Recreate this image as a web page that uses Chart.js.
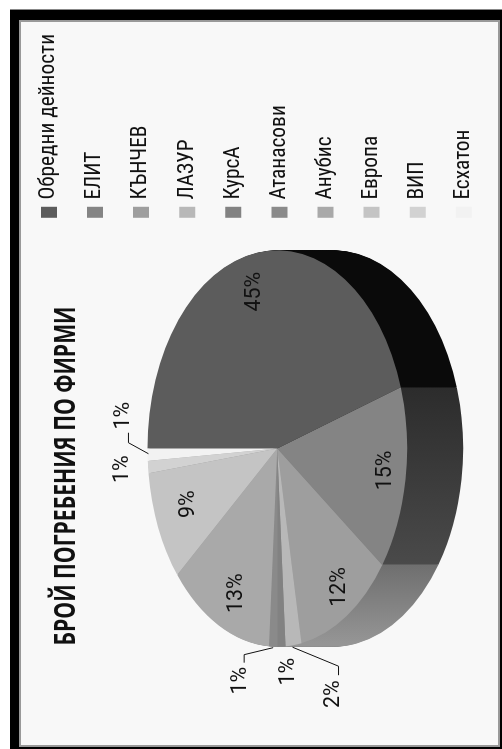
<!DOCTYPE html>
<html>
<head>
<meta charset="utf-8">
<title>Брой погребения по фирми</title>
<script src="https://cdn.jsdelivr.net/npm/chart.js@4"></script>
<style>
    html, body { margin: 0; padding: 0; background: #fff; width: 502px; height: 749px; overflow: hidden; }
    #frame { position: absolute; left: 10px; top: 9px; width: 492px; height: 740px; background: #000; border-top: 1px solid #888; box-sizing: border-box; }
    #panel { position: absolute; left: 9px; top: 10px; width: 481px; height: 727px; background: #f8f8f8; border: 2px solid #999; box-sizing: border-box; }
    #chart { position: absolute; left: 0; top: 0; transform-origin: 0 0; transform: translateY(749px) rotate(-90deg); filter: blur(0.4px); }
</style>
</head>
<body>
<div id="frame"><div id="panel"></div></div>
<canvas id="chart" width="749" height="502"></canvas>
<script>
// ------------------------------
// DATA
// ------------------------------
const firms = ["Обредни дейности", "ЕЛИТ", "КЪНЧЕВ", "ЛАЗУР", "КурсА", "Атанасови", "Анубис", "Европа", "ВИП", "Есхатон"];
const shares = [45, 15, 12, 2, 1, 1, 13, 9, 1, 1];
const chartTitle = "БРОЙ ПОГРЕБЕНИЯ ПО ФИРМИ";

// ------------------------------
// LOOK
// ------------------------------
const sliceColors = ["#5c5c5c", "#848484", "#9e9e9e", "#b8b8b8", "#828282", "#8a8a8a", "#a9a9a9", "#c4c4c4", "#d2d2d2", "#f2f2f2"];
// side wall shade at the start and the end of each slice
const wallStart = ["#000000", "#2c2c2c", "#6f6f6f", "#959595", "#8a8a8a", "#8a8a8a", "#8a8a8a", "#8a8a8a", "#8a8a8a", "#8a8a8a"];
const wallEnd = ["#0a0a0a", "#4a4a4a", "#959595", "#959595", "#8a8a8a", "#8a8a8a", "#8a8a8a", "#8a8a8a", "#8a8a8a", "#8a8a8a"];
const fontName = "Roboto, 'Liberation Sans', sans-serif";
const titleFontName = "'Open Sans', Roboto, sans-serif";
const squash = 0.655;
const pieDepth = 56;
const tiltShift = 26.5;
const titleShift = 27.5;
const titleWidth = 339;

// label offset from the middle of the slice's rim
const labelOffsets = [[-39, -2.5], [9, -19.5], [29, -7.5], [-49, 40.5], [-25, 7.5], [-34, -32.5], [32, 18.5], [23, 30.5], [-2, -25.5], [39, -23.5]];
const leaders = {
    3: [[-2, -1], [-21, 45], [-30, 45]],
    5: [[-1, 0], [-8, -29], [-16, -29]],
    9: [[1, 1], [12, -19], [22, -19]]
};

function applyTilt(ctx, arc) {
    ctx.translate(arc.x, arc.y - tiltShift);
    ctx.scale(1, squash);
    ctx.translate(-arc.x, -arc.y);
}

function wallFill(ctx, arc, i) {
    const r = arc.outerRadius;
    const g = ctx.createLinearGradient(arc.x + Math.cos(arc.startAngle) * r, 0, arc.x + Math.cos(arc.endAngle) * r, 0);
    g.addColorStop(0, wallStart[i]);
    g.addColorStop(1, wallEnd[i]);
    return g;
}

const pie3d = {
    id: "pie3d",
    beforeUpdate(chart) {
        chart.ctx.fontStretch = "condensed";
    },
    afterLayout(chart) {
        // the title box width also squeezes the text to fit
        const title = chart.titleBlock;
        const middle = (title.left + title.right) / 2 - titleShift;
        title.left = middle - titleWidth / 2;
        title.right = middle + titleWidth / 2;
    },
    beforeDraw(chart) {
        chart.ctx.fontStretch = "condensed";
    },
    beforeDatasetsDraw(chart) {
        const ctx = chart.ctx;
        const arcs = chart.getDatasetMeta(0).data;
        // side wall: the same arcs stacked downwards
        for (let d = pieDepth; d > 0; d--) {
            ctx.save();
            ctx.translate(0, d);
            applyTilt(ctx, arcs[0]);
            arcs.forEach((arc, i) => {
                const saved = arc.options;
                arc.options = Object.assign(Object.create(saved), { backgroundColor: wallFill(ctx, arc, i) });
                arc.draw(ctx);
                arc.options = saved;
            });
            ctx.restore();
        }
        ctx.save();
        applyTilt(ctx, arcs[0]);
    },
    afterDatasetsDraw(chart) {
        chart.ctx.restore();
    },
    afterDraw(chart) {
        const ctx = chart.ctx;
        const arcs = chart.getDatasetMeta(0).data;
        ctx.save();
        ctx.fillStyle = "#111";
        ctx.strokeStyle = "#111";
        ctx.lineWidth = 1;
        ctx.font = "21.4px " + fontName;
        ctx.textAlign = "center";
        ctx.textBaseline = "middle";
        arcs.forEach((arc, i) => {
            // Chart.js angles start at 3 o'clock
            const mid = (arc.startAngle + arc.endAngle) / 2;
            const rimX = arc.x + Math.cos(mid) * arc.outerRadius;
            const rimY = arc.y - tiltShift + Math.sin(mid) * arc.outerRadius * squash;
            ctx.fillText(shares[i] + "%", rimX + labelOffsets[i][0], rimY + labelOffsets[i][1]);
            if (leaders[i]) {
                ctx.beginPath();
                leaders[i].forEach((p, k) => {
                    if (k === 0) ctx.moveTo(rimX + p[0], rimY + p[1]);
                    else ctx.lineTo(rimX + p[0], rimY + p[1]);
                });
                ctx.stroke();
            }
        });
        ctx.restore();
    }
};

new Chart(document.getElementById("chart").getContext("2d"), {
    type: "pie",
    data: {
        labels: firms,
        datasets: [{
            data: shares,
            backgroundColor: sliceColors,
            borderWidth: 0
        }]
    },
    options: {
        responsive: false,
        animation: false,
        layout: { padding: { left: 91, top: 13.5, right: 2, bottom: -20 } },
        plugins: {
            tooltip: { enabled: false },
            title: {
                display: true,
                text: chartTitle,
                fullSize: false,
                color: "#111",
                font: { family: titleFontName, size: 28, weight: "bold", lineHeight: 1 },
                padding: { top: 39.5, bottom: 24.5 }
            },
            legend: {
                position: "right",
                align: "start",
                labels: {
                    color: "#111",
                    font: { family: fontName, size: 21.4, lineHeight: 1 },
                    boxWidth: 4,
                    boxHeight: 9,
                    padding: 24.7,
                    generateLabels(chart) {
                        const items = Chart.overrides.pie.plugins.legend.labels.generateLabels(chart);
                        items.forEach(item => {
                            item.strokeStyle = item.fillStyle;
                            item.lineWidth = 7;
                        });
                        return items;
                    }
                }
            }
        }
    },
    plugins: [pie3d]
});
</script>
</body>
</html>
